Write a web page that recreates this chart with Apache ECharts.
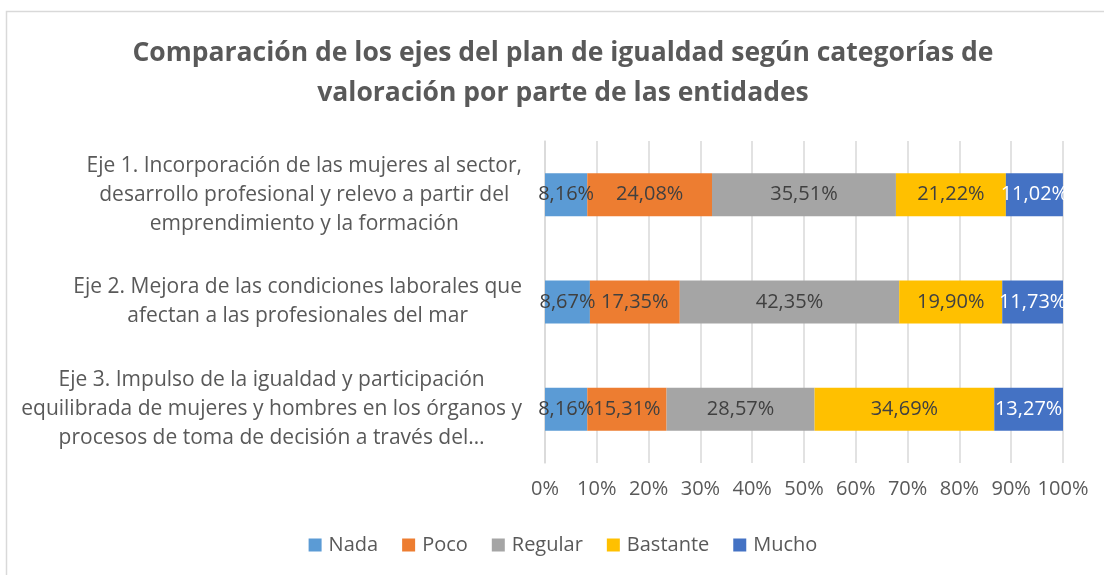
<!DOCTYPE html>
<html>
<head>
<meta charset="utf-8">
<script src="https://cdn.jsdelivr.net/npm/echarts@6/dist/echarts.min.js"></script>
<style>
  html, body { margin: 0; padding: 0; background: #ffffff; overflow: hidden; }
  /* the chart area runs a little past the right edge of the window */
  #chart { width: 1126px; height: 575px; }
</style>
</head>
<body>
<div id="chart"></div>
<script>
// Ejes del plan de igualdad (categorías del eje vertical)
const categories = [
  'Eje 1. Incorporación de las mujeres al sector,\ndesarrollo profesional y relevo a partir del\nemprendimiento y la formación',
  'Eje 2. Mejora de las condiciones laborales que\nafectan a las profesionales del mar',
  'Eje 3. Impulso de la igualdad y participación\nequilibrada de mujeres y hombres en los órganos y\nprocesos de toma de decisión a través del…'
];

// Porcentaje de entidades por categoría de valoración
const nada     = [8.16, 8.67, 8.16];
const poco     = [24.08, 17.35, 15.31];
const regular  = [35.51, 42.35, 28.57];
const bastante = [21.22, 19.90, 34.69];
const mucho    = [11.02, 11.73, 13.27];

const seriesNames = ['Nada', 'Poco', 'Regular', 'Bastante', 'Mucho'];
const seriesValues = [nada, poco, regular, bastante, mucho];
const seriesColors = ['#5B9BD5', '#ED7D31', '#A5A5A5', '#FFC000', '#4472C4'];
const labelColors = ['#404040', '#404040', '#404040', '#404040', '#FFFFFF'];

const FONT = '"Open Sans", Lato, sans-serif';
const CAT_SIZE = 21;

// Layout of the plot area
const GRID_LEFT = 545;
const GRID_RIGHT = 63;
const LABEL_GAP = 23;      // distance between the right edge of a label block and the axis
const LABEL_MARGIN = 420;  // anchor of the centred label blocks, measured from the axis

// Each label block: lines centred among themselves, block right-aligned next to the axis.
const measureCtx = document.createElement('canvas').getContext('2d');
measureCtx.font = CAT_SIZE + 'px "Open Sans"';
function blockPadding(text) {
  const w = Math.max(...text.split('\n').map(l => measureCtx.measureText(l).width));
  const center = GRID_LEFT - LABEL_GAP - w / 2;
  const anchor = GRID_LEFT - LABEL_MARGIN;
  const shift = center - anchor;
  return shift >= 0 ? [0, 0, 0, 2 * shift] : [0, -2 * shift, 0, 0];
}

const chart = echarts.init(document.getElementById('chart'), null, { renderer: 'canvas' });

const fmt = v => v.toFixed(2).replace('.', ',') + '%';

chart.setOption({
  animation: false,
  backgroundColor: '#ffffff',
  textStyle: { fontFamily: FONT },
  graphic: [{
    type: 'rect',
    left: 4, top: 9,
    shape: { width: 1200, height: 700 },
    style: { fill: 'none', stroke: '#D9D9D9', lineWidth: 1.5 },
    silent: true,
    z: -1
  }],
  title: {
    text: 'Comparación de los ejes del plan de igualdad según categorías de\nvaloración por parte de las entidades',
    left: 'center',
    top: 28,
    textStyle: {
      fontFamily: FONT,
      fontWeight: 'bold',
      fontSize: 26.5,
      lineHeight: 40,
      color: '#595959'
    }
  },
  legend: {
    data: seriesNames,
    bottom: 15,
    left: 'center',
    itemWidth: 13,
    itemHeight: 13,
    itemGap: 24,
    icon: 'rect',
    textStyle: { fontFamily: FONT, fontSize: 20, color: '#595959', padding: [0, 0, 0, 2] }
  },
  grid: {
    left: GRID_LEFT,
    right: GRID_RIGHT,
    top: 141,
    bottom: 112,
    containLabel: false,
    outerBoundsMode: 'none'
  },
  xAxis: {
    type: 'value',
    min: 0,
    max: 100,
    interval: 10,
    axisLine: { show: false },
    axisTick: { show: false },
    splitLine: { show: true, lineStyle: { color: '#D9D9D9', width: 1.5 } },
    axisLabel: {
      formatter: v => v + '%',
      fontFamily: FONT,
      fontSize: 20,
      color: '#595959',
      margin: 16
    }
  },
  yAxis: {
    type: 'category',
    inverse: true,
    data: categories.map(c => ({
      value: c,
      textStyle: { align: 'center', padding: blockPadding(c) }
    })),
    axisLine: { show: true, lineStyle: { color: '#D9D9D9', width: 1.5 } },
    axisTick: { show: false },
    axisLabel: {
      fontFamily: FONT,
      fontSize: CAT_SIZE,
      lineHeight: 29,
      color: '#595959',
      align: 'center',
      margin: LABEL_MARGIN
    }
  },
  series: seriesNames.map((name, i) => ({
    name: name,
    type: 'bar',
    stack: 'total',
    barCategoryGap: '60%',
    itemStyle: { color: seriesColors[i] },
    label: {
      show: true,
      position: 'inside',
      formatter: p => fmt(p.value),
      fontFamily: FONT,
      fontSize: 20,
      color: labelColors[i]
    },
    data: seriesValues[i]
  }))
});
</script>
</body>
</html>
